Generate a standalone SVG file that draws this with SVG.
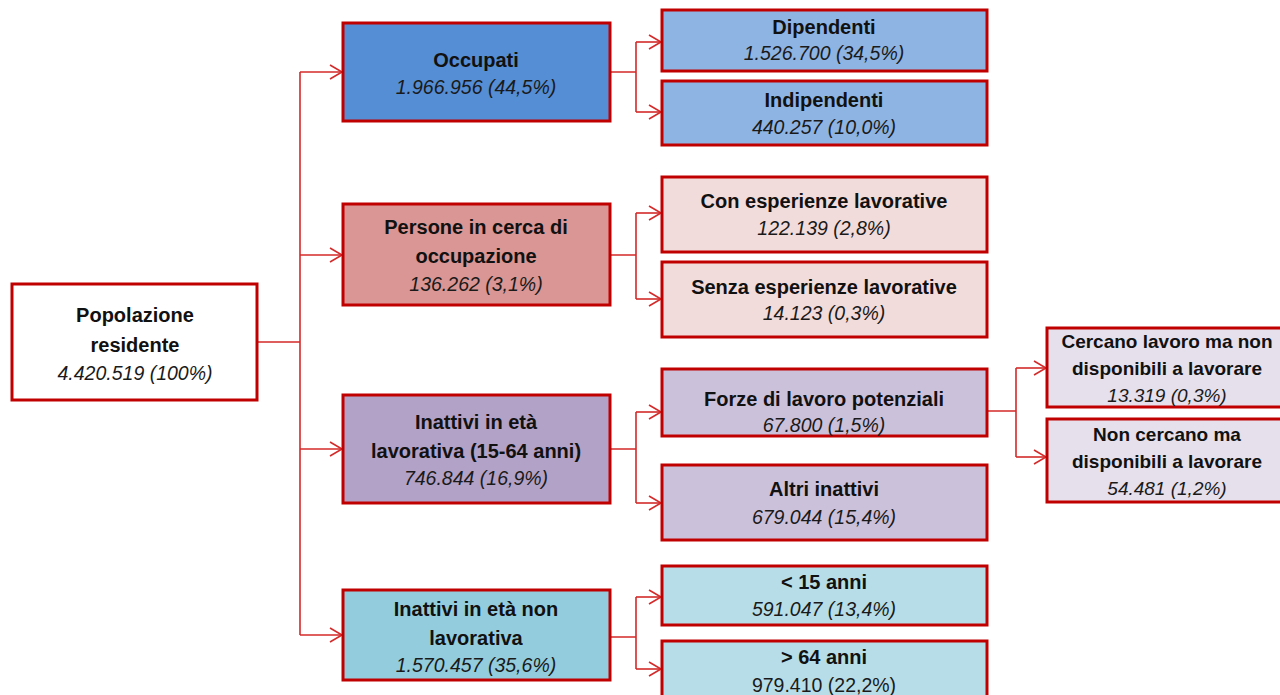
<svg xmlns="http://www.w3.org/2000/svg" width="1280" height="695" viewBox="0 0 1280 695">
<style>
.box{stroke:#C00000;stroke-width:3}
.t{font-family:"Liberation Sans",Arial,sans-serif;font-size:20px;font-weight:bold;fill:#111111;text-anchor:middle}
.v{font-family:"Liberation Sans",Arial,sans-serif;font-size:19.5px;font-style:italic;fill:#1a1a1a;text-anchor:middle}
.n{font-family:"Liberation Sans",Arial,sans-serif;font-size:19.5px;fill:#1a1a1a;text-anchor:middle}
.s{font-size:19px}
.c{fill:none;stroke:#D42A2A;stroke-width:1.6}
.a{marker-end:url(#arr)}
</style>
<defs>
<marker id="arr" markerUnits="userSpaceOnUse" markerWidth="16" markerHeight="18" refX="13" refY="8" orient="auto">
<path d="M1,1 L13,8 L1,15" fill="none" stroke="#D42A2A" stroke-width="1.6"/>
</marker>
</defs>
<rect width="1280" height="695" fill="#ffffff"/>
<g id="connectors">
<path class="c" d="M257,342 H300 M300,72 V635"/>
<path class="c a" d="M300,72 H342"/>
<path class="c a" d="M300,255 H342"/>
<path class="c a" d="M300,449 H342"/>
<path class="c a" d="M300,635 H342"/>
<path class="c" d="M610,72 H636 M636,42 V112"/>
<path class="c a" d="M636,42 H661"/>
<path class="c a" d="M636,112 H661"/>
<path class="c" d="M610,255 H636 M636,213 V299"/>
<path class="c a" d="M636,213 H661"/>
<path class="c a" d="M636,299 H661"/>
<path class="c" d="M610,449 H636 M636,412 V503"/>
<path class="c a" d="M636,412 H661"/>
<path class="c a" d="M636,503 H661"/>
<path class="c" d="M610,637 H636 M636,597 V669"/>
<path class="c a" d="M636,597 H661"/>
<path class="c a" d="M636,669 H661"/>
<path class="c" d="M987,411 H1016 M1016,368 V457"/>
<path class="c a" d="M1016,368 H1046"/>
<path class="c a" d="M1016,457 H1046"/>
</g>
<g id="popolazione">
<rect class="box" x="12" y="284" width="245" height="116" fill="#ffffff"/>
<text class="t" x="135" y="322">Popolazione</text>
<text class="t" x="135" y="352">residente</text>
<text class="v" x="135" y="380">4.420.519 (100%)</text>
</g>
<g id="occupati">
<rect class="box" x="343" y="23" width="267" height="98" fill="#558ED5"/>
<text class="t" x="476" y="67">Occupati</text>
<text class="v" x="476" y="94">1.966.956 (44,5%)</text>
</g>
<g id="dipendenti">
<rect class="box" x="662" y="10" width="325" height="61" fill="#8EB4E3"/>
<text class="t" x="824" y="34">Dipendenti</text>
<text class="v" x="824" y="60">1.526.700 (34,5%)</text>
</g>
<g id="indipendenti">
<rect class="box" x="662" y="81" width="325" height="64" fill="#8EB4E3"/>
<text class="t" x="824" y="107">Indipendenti</text>
<text class="v" x="824" y="134">440.257 (10,0%)</text>
</g>
<g id="persone">
<rect class="box" x="343" y="204" width="267" height="101" fill="#D99694"/>
<text class="t" x="476" y="234">Persone in cerca di</text>
<text class="t" x="476" y="263">occupazione</text>
<text class="v" x="476" y="291">136.262 (3,1%)</text>
</g>
<g id="con-esperienze">
<rect class="box" x="662" y="177" width="325" height="75" fill="#F2DCDB"/>
<text class="t" x="824" y="208">Con esperienze lavorative</text>
<text class="v" x="824" y="235">122.139 (2,8%)</text>
</g>
<g id="senza-esperienze">
<rect class="box" x="662" y="262" width="325" height="75" fill="#F2DCDB"/>
<text class="t" x="824" y="294">Senza esperienze lavorative</text>
<text class="v" x="824" y="320">14.123 (0,3%)</text>
</g>
<g id="inattivi-lavorativa">
<rect class="box" x="343" y="395" width="267" height="108" fill="#B3A2C7"/>
<text class="t" x="476" y="429">Inattivi in età</text>
<text class="t" x="476" y="458">lavorativa (15-64 anni)</text>
<text class="v" x="476" y="485">746.844 (16,9%)</text>
</g>
<g id="forze-lavoro">
<rect class="box" x="662" y="369" width="325" height="67" fill="#CCC1DA"/>
<text class="t" x="824" y="406">Forze di lavoro potenziali</text>
<text class="v" x="824" y="432">67.800 (1,5%)</text>
</g>
<g id="altri-inattivi">
<rect class="box" x="662" y="465" width="325" height="75" fill="#CCC1DA"/>
<text class="t" x="824" y="496">Altri inattivi</text>
<text class="v" x="824" y="524">679.044 (15,4%)</text>
</g>
<g id="cercano">
<rect class="box" x="1047" y="328" width="260" height="79" fill="#E6E0EC"/>
<text class="t s" x="1167" y="348">Cercano lavoro ma non</text>
<text class="t s" x="1167" y="375">disponibili  a lavorare</text>
<text class="v s" x="1167" y="402">13.319 (0,3%)</text>
</g>
<g id="non-cercano">
<rect class="box" x="1047" y="419" width="260" height="83" fill="#E6E0EC"/>
<text class="t s" x="1167" y="441">Non cercano ma</text>
<text class="t s" x="1167" y="468">disponibili  a lavorare</text>
<text class="v s" x="1167" y="495">54.481 (1,2%)</text>
</g>
<g id="inattivi-non-lavorativa">
<rect class="box" x="343" y="590" width="267" height="90" fill="#93CDDD"/>
<text class="t" x="476" y="616">Inattivi in età non</text>
<text class="t" x="476" y="645">lavorativa</text>
<text class="v" x="476" y="672">1.570.457 (35,6%)</text>
</g>
<g id="meno-15">
<rect class="box" x="662" y="566" width="325" height="59" fill="#B7DEE8"/>
<text class="t" x="824" y="589">&lt; 15 anni</text>
<text class="v" x="824" y="616">591.047 (13,4%)</text>
</g>
<g id="oltre-64">
<rect class="box" x="662" y="641" width="325" height="70" fill="#B7DEE8"/>
<text class="t" x="824" y="664">&gt; 64 anni</text>
<text class="n" x="824" y="692">979.410 (22,2%)</text>
</g>
</svg>
